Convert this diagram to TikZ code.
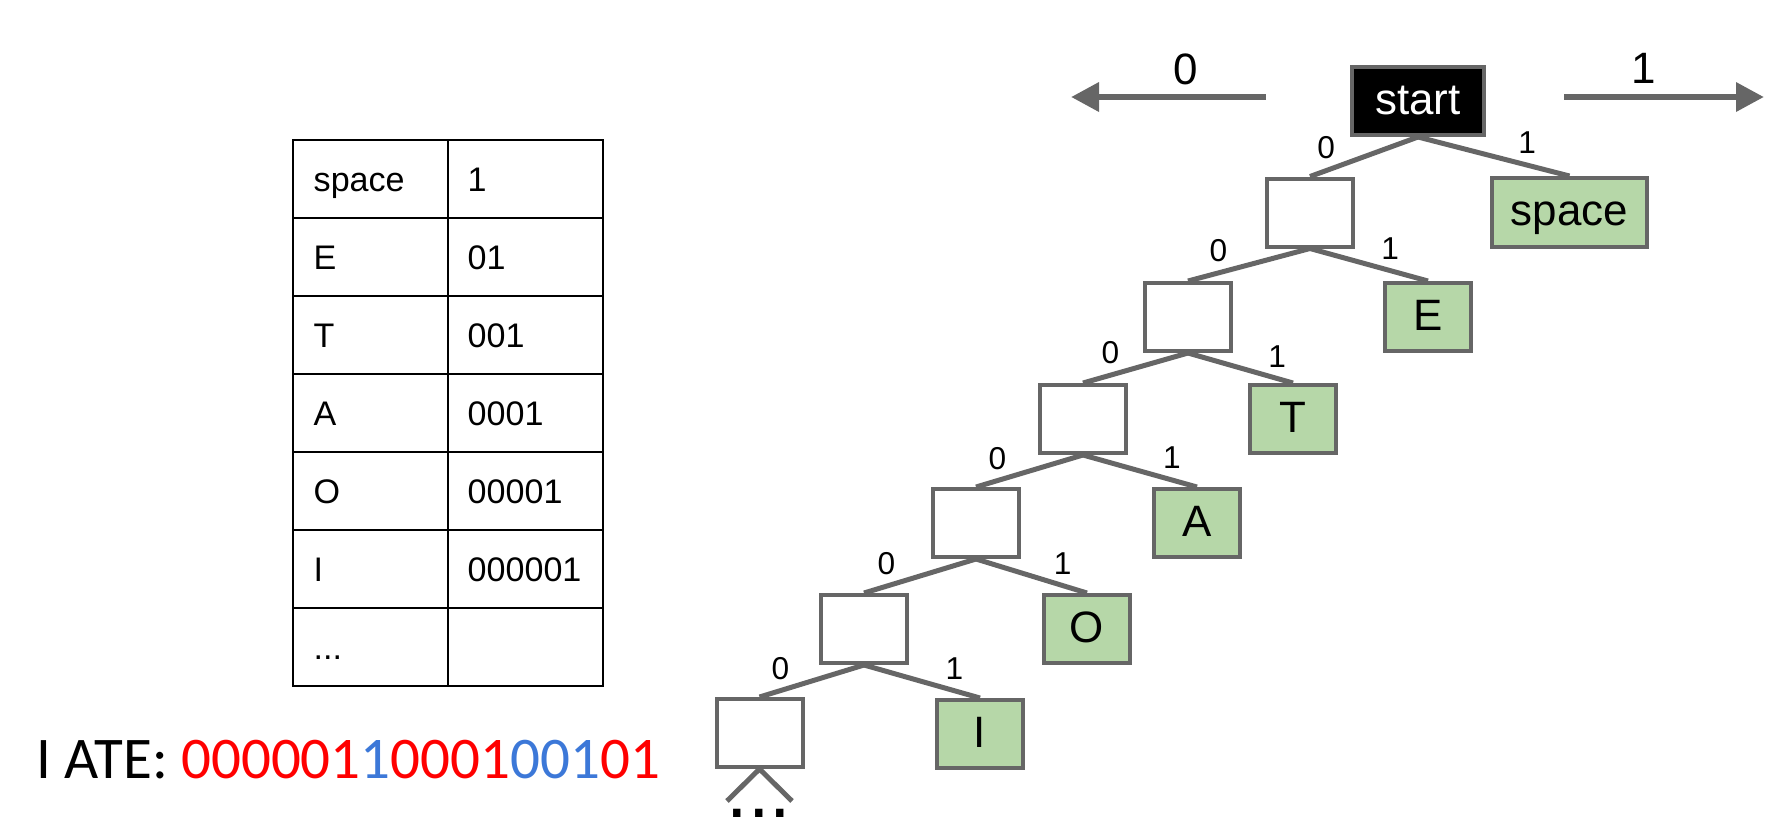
\documentclass[tikz,border=0pt]{standalone}
\usepackage{fontspec}
\setmainfont{Liberation Sans}
\newfontfamily\calib{Carlito}
\usetikzlibrary{arrows.meta}
\definecolor{edgegray}{HTML}{666666}
\definecolor{leafgreen}{HTML}{B6D7A8}
\definecolor{codered}{HTML}{FF0000}
\definecolor{codeblue}{HTML}{3C78D8}
\tikzset{
  emptybox/.style={draw=edgegray, line width=0.4mm, rectangle, inner sep=0pt,
    minimum width=8.6mm, minimum height=6.8mm, fill=white},
  leafbox/.style={emptybox, fill=leafgreen, font=\fontsize{12.5}{15}\selectfont,
    text height=0.75em, text depth=0pt},
  startbox/.style={emptybox, fill=black, text=white, minimum width=13.2mm,
    font=\fontsize{12.5}{15}\selectfont, text height=0.78em, text depth=0pt},
  edge/.style={draw=edgegray, line width=0.5mm},
  lbl/.style={inner sep=0pt, above=2.5pt, font=\fontsize{9}{10}\selectfont},
  bigarrow/.style={draw=edgegray, line width=0.65mm,
    -{Triangle[length=2.8mm, width=2.8mm]}},
  biglbl/.style={inner sep=0pt, font=\fontsize{12.5}{14}\selectfont},
  tabtxt/.style={inner sep=0pt, anchor=base west, font=\fontsize{9.7}{12}\selectfont},
  tabline/.style={draw=black, line width=0.2mm}
}
\begin{document}
\begin{tikzpicture}[x=0.1mm, y=-0.1mm]
\useasboundingbox (0,0) rectangle (1775,824);

% top arrows
\coordinate (ltail) at (1266,97);
\coordinate (ltip) at (1071,97);
\coordinate (rtail) at (1564,97);
\coordinate (rtip) at (1764,97);
\draw[bigarrow] (ltail) -- (ltip);
\draw[bigarrow] (rtail) -- (rtip);
\node[biglbl] (zero) at (1186,69) {0};
\node[biglbl] (one) at (1644,68) {1};

% tree nodes
\node[startbox] (start) at (1418,101) {start};
\node[emptybox] (b1) at (1310,212.5) {};
\node[leafbox, minimum width=15.5mm, minimum height=6.9mm] (sp) at (1569.5,212.5) {space};
\node[emptybox] (b2) at (1188,317) {};
\node[leafbox] (E) at (1428,317) {E};
\node[emptybox] (b3) at (1083,419) {};
\node[leafbox] (T) at (1293,419) {T};
\node[emptybox] (b4) at (976,523) {};
\node[leafbox] (A) at (1197,523) {A};
\node[emptybox] (b5) at (864,629) {};
\node[leafbox] (O) at (1087,629) {O};
\node[emptybox] (b6) at (759.5,733) {};
\node[leafbox] (I) at (980,734) {I};

% edges
\draw[edge] (start.south) -- node[lbl, pos=0.85]{0} (b1.north);
\draw[edge] (start.south) -- node[lbl, pos=0.72]{1} (sp.north);
\draw[edge] (b1.south) -- node[lbl, pos=0.75]{0} (b2.north);
\draw[edge] (b1.south) -- node[lbl, pos=0.68]{1} (E.north);
\draw[edge] (b2.south) -- node[lbl, pos=0.74]{0} (b3.north);
\draw[edge] (b2.south) -- node[lbl, pos=0.85]{1} (T.north);
\draw[edge] (b3.south) -- node[lbl, pos=0.8]{0} (b4.north);
\draw[edge] (b3.south) -- node[lbl, pos=0.78]{1} (A.north);
\draw[edge] (b4.south) -- node[lbl, pos=0.8]{0} (b5.north);
\draw[edge] (b4.south) -- node[lbl, pos=0.78]{1} (O.north);
\draw[edge] (b5.south) -- node[lbl, pos=0.8]{0} (b6.north);
\draw[edge] (b5.south) -- node[lbl, pos=0.78]{1} (I.north);

% continuation below last node
\coordinate (cl) at (727,801);
\coordinate (cr) at (792,801);
\draw[edge] (b6.south) -- (cl);
\draw[edge] (b6.south) -- (cr);
\node[inner sep=0pt, anchor=base, font=\fontsize{22}{24}\selectfont] (more) at (759,817) {...};

% table
\draw[tabline] (293,140) rectangle (603,686);
\draw[tabline] (448,140) -- (448,686);
\foreach \i in {1,...,6} {
  \draw[tabline] (293,140+78*\i) -- (603,140+78*\i);
}
\node[tabtxt] (k1) at (313,191) {space};
\node[tabtxt] (v1) at (467,191) {1};
\node[tabtxt] (k2) at (313,269) {E};
\node[tabtxt] (v2) at (467,269) {01};
\node[tabtxt] (k3) at (313,347) {T};
\node[tabtxt] (v3) at (467,347) {001};
\node[tabtxt] (k4) at (313,425) {A};
\node[tabtxt] (v4) at (467,425) {0001};
\node[tabtxt] (k5) at (313,503) {O};
\node[tabtxt] (v5) at (467,503) {00001};
\node[tabtxt] (k6) at (313,581) {I};
\node[tabtxt] (v6) at (467,581) {000001};
\node[tabtxt] (k7) at (313,659) {...};

% encoded message
\node[inner sep=0pt, anchor=base west, font=\calib\fontsize{16.8}{20}\selectfont] (msg) at (36,778)
  {I ATE: \textcolor{codered}{000001}\textcolor{codeblue}{1}\textcolor{codered}{0001}\textcolor{codeblue}{001}\textcolor{codered}{01}};
\end{tikzpicture}
\end{document}
